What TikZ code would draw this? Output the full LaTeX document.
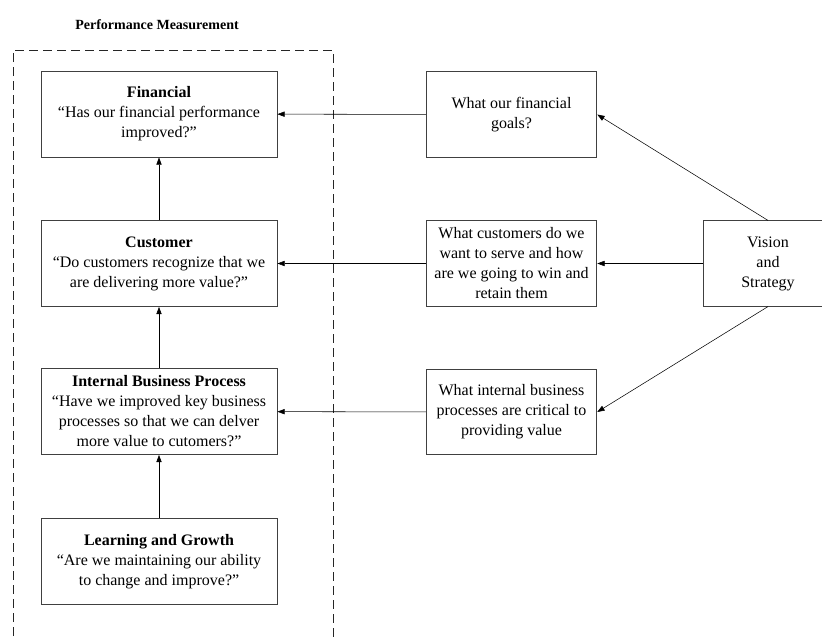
\documentclass[tikz,border=0pt]{standalone}
\usepackage{fontspec}
\setmainfont{Liberation Serif}
\usetikzlibrary{arrows.meta, positioning}
\tikzset{
  box/.style    = {draw=black!75, semithick, align=center, fill=white,
                   inner sep=2pt, font=\fontsize{12}{15}\selectfont},
  persp/.style  = {box, minimum width=177pt, minimum height=64.5pt},
  quest/.style  = {box, minimum width=128pt, minimum height=64pt},
  sig/.style    = {-{Triangle[length=5.5pt, width=4pt]}, thin},
  frame/.style  = {draw=black!85, thin, dash pattern=on 7pt off 3.5pt},
  title/.style  = {font=\fontsize{10.5}{12}\selectfont\bfseries},
}

\begin{document}
\begin{tikzpicture}[x=0.75pt, y=-0.75pt]
  \clip (0,0) rectangle (822,639);

  % marco punteado de la medicion
  \node[title] (ttl) at (157,25) {Performance Measurement};
  \draw[frame] (13,650) -- (13,50) -- (333,50) -- (333,650);

  % perspectivas
  \node[persp] (fin)  at (159,114)   {\textbf{Financial}\\``Has our financial performance\\improved?''};
  \node[persp] (cus)  at (159,263.5) {\textbf{Customer}\\``Do customers recognize that we\\are delivering more value?''};
  \node[persp] (ibp)  at (159,411.5) {\textbf{Internal Business Process}\\``Have we improved key business\\processes so that we can delver\\more value to cutomers?''};
  \node[persp] (lrn)  at (159,561.5) {\textbf{Learning and Growth}\\``Are we maintaining our ability\\to change and improve?''};

  % preguntas
  \node[quest] (qfin) at (511.5,114.5) {What our financial\\goals?};
  \node[quest] (qcus) at (511.5,263.5) {What customers do we\\want to serve and how\\are we going to win and\\retain them};
  \node[quest] (qibp) at (511.5,412)   {What internal business\\processes are critical to\\providing value};

  \node[box, minimum width=97.5pt, minimum height=64pt] (vis) at (768,263.5) {Vision\\and\\Strategy};

  \draw[sig] (lrn) -- (ibp);
  \draw[sig] (ibp) -- (cus);
  \draw[sig] (cus) -- (fin);

  \draw[sig] (qfin) -- (fin);
  \draw[sig] (qcus) -- (cus);
  \draw[sig] (qibp) -- (ibp);

  \draw[sig] (vis.north) -- (qfin.east);
  \draw[sig] (vis.west)  -- (qcus.east);
  \draw[sig] (vis.south) -- (qibp.east);
\end{tikzpicture}
\end{document}
